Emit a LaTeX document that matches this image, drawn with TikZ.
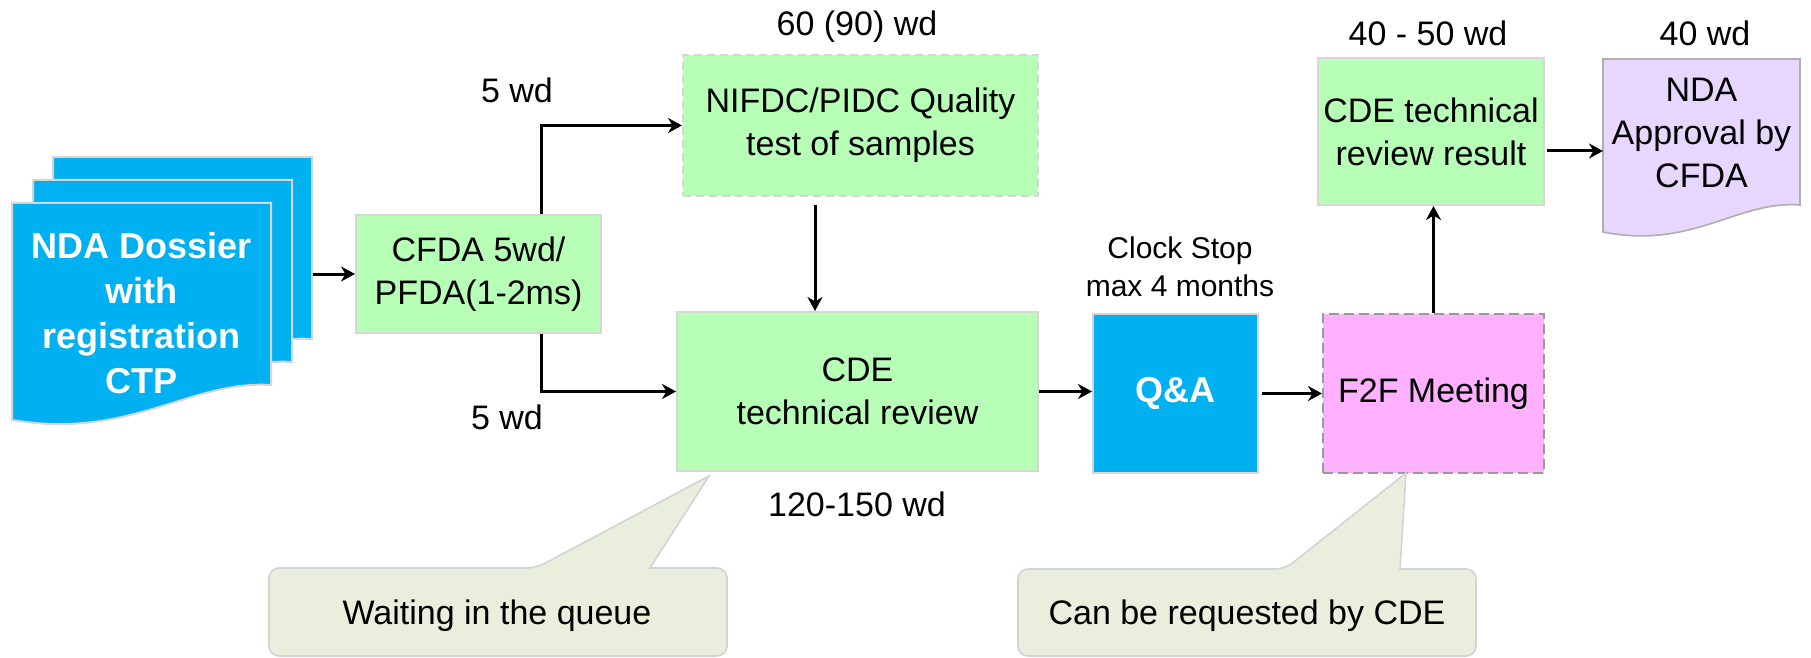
\documentclass[tikz,border=0pt]{standalone}
\usepackage{fontspec}
\setmainfont{Liberation Sans}
\usetikzlibrary{arrows.meta}
\definecolor{lgreen}{HTML}{B7FFB7}
\definecolor{bgray}{HTML}{D6D6D6}
\definecolor{dblue}{HTML}{00B0F0}
\definecolor{lpink}{HTML}{FFB0FF}
\definecolor{lavender}{HTML}{E7D6FE}
\definecolor{cfill}{HTML}{EAEEDD}
\definecolor{cborder}{HTML}{D3D3D3}
\definecolor{dgray}{HTML}{9A9A9A}
\tikzset{
  lab/.style={font=\fontsize{17}{21.5}\selectfont, align=center, inner sep=0pt},
  gbox/.style={lab, draw=bgray, line width=1pt, fill=lgreen},
  arr/.style={line width=1.5pt, -{Stealth[length=7pt,width=7.5pt,inset=2.2pt]}},
  docpage/.style={fill=dblue, draw=bgray, line width=1pt},
  callout/.style={fill=cfill, draw=cborder, line width=0.8pt},
}
\begin{document}
\begin{tikzpicture}[x=0.5pt,y=-0.5pt]
\path[use as bounding box] (0,0) rectangle (1811,658);

% stacked dossier pages
\draw[docpage] (53,157) -- (312,157) -- (312,339) .. controls (231,334) and (171,394) .. (53,374) -- cycle;
\draw[docpage] (33,180) -- (292,180) -- (292,362) .. controls (211,357) and (151,417) .. (33,397) -- cycle;
\draw[docpage] (12,203) -- (271,203) -- (271,385) .. controls (190,380) and (130,440) .. (12,420) -- cycle;
\node[lab, text=white, font=\bfseries\fontsize{18}{22.5}\selectfont] (doc) at (141.5,313) {NDA Dossier\\with\\registration\\CTP};
\coordinate (docout) at (313,274);

% boxes
\node[gbox, draw=bgray, minimum width=122.5pt, minimum height=59pt] (cfda) at (478.5,274) {CFDA 5wd/\\PFDA(1-2ms)};
\node[gbox, draw=bgray, dash pattern=on 4pt off 2.5pt, minimum width=177.5pt, minimum height=70.5pt] (nifdc) at (860.5,125.5) {NIFDC/PIDC Quality\\test of samples};
\node[gbox, minimum width=180.5pt, minimum height=79.5pt] (cde) at (857.5,391.5) {CDE\\technical review};
\node[lab, draw=bgray, line width=1pt, fill=dblue, text=white, font=\bfseries\fontsize{18}{22}\selectfont, minimum width=82.5pt, minimum height=79.5pt] (qa) at (1175.5,393.5) {Q\&A};
\node[lab, draw=dgray, line width=1pt, dash pattern=on 5pt off 2.5pt, fill=lpink, minimum width=110.5pt, minimum height=79.5pt] (f2f) at (1433.5,393.5) {F2F Meeting};
\node[gbox, minimum width=113pt, minimum height=73.5pt] (result) at (1431,131.5) {CDE technical\\review result};

% approval document
\draw[fill=lavender, draw=dgray!80, line width=0.8pt] (1603,59) -- (1800,59) -- (1800,205) .. controls (1738,200) and (1692,250) .. (1603,232) -- cycle;
\node[lab] (appr) at (1701.5,133) {NDA\\Approval by\\CFDA};
\coordinate (apprin) at (1603,151);

% labels
\node[lab] (l60) at (857,27) {60 (90) wd};
\node[lab] (l5a) at (517,90) {5 wd};
\node[lab] (l5b) at (507,417) {5 wd};
\node[lab] (l120) at (857,504) {120-150 wd};
\node[lab, font=\fontsize{15}{19}\selectfont] (clock) at (1180,267) {Clock Stop\\max 4 months};
\node[lab] (l4050) at (1428,33) {40 - 50 wd};
\node[lab] (l40) at (1705,33) {40 wd};

% connectors
\draw[arr] (docout) -- (cfda.west);
\draw[arr] ([xshift=31.25pt]cfda.north) |- (nifdc.west);
\draw[arr] ([xshift=31.25pt]cfda.south) |- (cde.west);
\draw[arr, shorten <=4pt] ([xshift=-22.75pt]nifdc.south) -- ([xshift=-22.75pt]nifdc.south |- cde.north);
\draw[arr] (cde.east) -- (cde.east -| qa.west);
\draw[arr, shorten <=1.5pt] (qa.east) -- (f2f.west);
\draw[arr] (f2f.north) -- (f2f.north |- result.south);
\draw[arr, shorten <=1pt] (result.east |- apprin) -- (apprin);

% callouts
\draw[callout] (269,612) [rounded corners=5pt] -- (269,568) -- (536,568) [sharp corners] -- (709,476) -- (650,568) [rounded corners=5pt] -- (727,568) -- (727,656) -- (269,656) -- cycle;
\node[lab] (wait) at (497,616) {Waiting in the queue};
\draw[callout] (1018,612) [rounded corners=5pt] -- (1018,569) -- (1285,569) [sharp corners] -- (1406,473) -- (1400,569) [rounded corners=5pt] -- (1476,569) -- (1476,656) -- (1018,656) -- cycle;
\node[lab] (req) at (1247,616) {Can be requested by CDE};
\end{tikzpicture}
\end{document}
